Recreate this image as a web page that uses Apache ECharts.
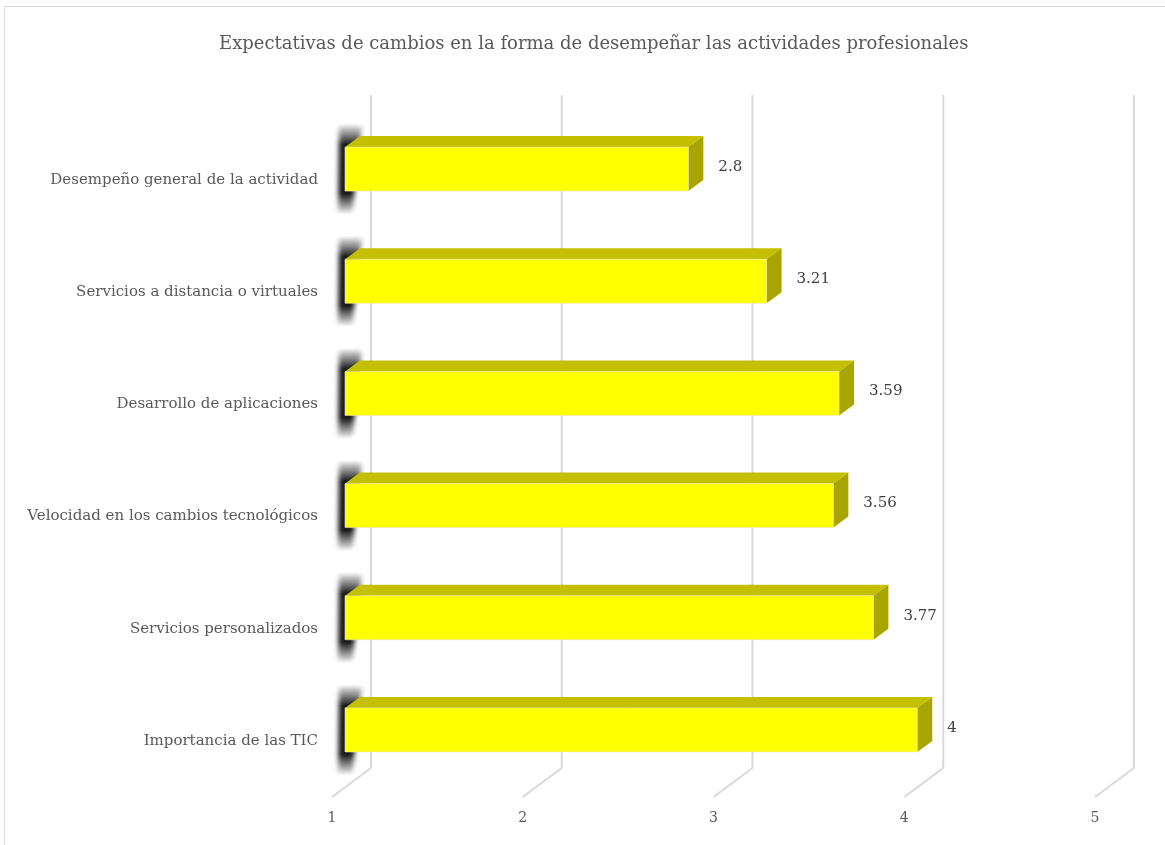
<!DOCTYPE html>
<html>
<head>
<meta charset="utf-8">
<script src="https://cdn.jsdelivr.net/npm/echarts@6/dist/echarts.min.js"></script>
<style>
  html, body { margin: 0; padding: 0; background: #ffffff; }
  #chart { width: 1165px; height: 845px; }
</style>
</head>
<body>
<div id="chart"></div>
<script>
// Chart data
const titleText = 'Expectativas de cambios en la forma de desempeñar las actividades profesionales';
const categories = [
  'Desempeño general de la actividad',
  'Servicios a distancia o virtuales',
  'Desarrollo de aplicaciones',
  'Velocidad en los cambios tecnológicos',
  'Servicios personalizados',
  'Importancia de las TIC'
];
const values = [2.8, 3.21, 3.59, 3.56, 3.77, 4];
const valueLabels = ['2.8', '3.21', '3.59', '3.56', '3.77', '4'];
const xTicks = [1, 2, 3, 4, 5];

// Oblique projection offsets (px) for the pseudo-3D look
const WALL = [39, -29];       // back wall relative to the front plane
const BAR_FRONT = [13, -11];  // bar front face relative to the front plane
const BAR_DEPTH = [15, -11];  // bar depth
const BAR_H = 44;             // bar thickness
const SHIFT = 3000;           // shadow caster is drawn off-canvas, only its blurred shadow lands
const FONT = "Georgia, 'DejaVu Serif', serif";

const chart = echarts.init(document.getElementById('chart'), null, { renderer: 'canvas' });

function renderGrid(params, api) {
  const cs = params.coordSys;
  const x = api.coord([api.value(0), 0])[0];
  const bottom = cs.y + cs.height;
  const style = { stroke: '#d9d9d9', lineWidth: 2, fill: null };
  return {
    type: 'group',
    children: [
      { type: 'line', shape: { x1: x + WALL[0], y1: cs.y + WALL[1], x2: x + WALL[0], y2: bottom + WALL[1] }, style },
      { type: 'line', shape: { x1: x, y1: bottom, x2: x + WALL[0], y2: bottom + WALL[1] }, style }
    ]
  };
}

// Soft drop shadow at the left end of a bar, faded at top and bottom
function softShadow(x0, yT, yB) {
  const pad = 24;
  const h = (yB - yT) + 2 * pad;
  const a = pad / h * 0.9;
  const pts = [[x0 - 6, yT - pad], [x0 + 17, yT - pad], [x0 + 7, yB + pad], [x0 - 7, yB + pad]];
  return {
    type: 'polygon',
    shape: { points: pts.map(p => [p[0] + SHIFT, p[1]]) },
    style: {
      fill: new echarts.graphic.LinearGradient(0, 0, 0, 1, [
        { offset: 0, color: 'rgba(0,0,0,0)' },
        { offset: a, color: 'rgba(0,0,0,0.9)' },
        { offset: 1 - a, color: 'rgba(0,0,0,0.9)' },
        { offset: 1, color: 'rgba(0,0,0,0)' }
      ]),
      shadowBlur: 5, shadowColor: 'rgba(0,0,0,1)', shadowOffsetX: -SHIFT, shadowOffsetY: 0
    }
  };
}

function renderBar(params, api) {
  const v = api.value(0);
  const idx = api.value(1);
  const start = api.coord([1, idx]);
  const end = api.coord([v, idx]);
  const x0 = start[0] + BAR_FRONT[0];
  const x1 = end[0] + BAR_FRONT[0];
  const cy = start[1] + BAR_FRONT[1];
  const yT = cy - BAR_H / 2;
  const yB = cy + BAR_H / 2;
  const dx = BAR_DEPTH[0], dy = BAR_DEPTH[1];
  return {
    type: 'group',
    children: [
      softShadow(x0, yT, yB),
      {
        type: 'polygon',
        shape: { points: [[x0, yT], [x1, yT], [x1 + dx, yT + dy], [x0 + dx, yT + dy]] },
        style: { fill: '#c4c000' }
      },
      {
        type: 'polygon',
        shape: { points: [[x1, yT], [x1 + dx, yT + dy], [x1 + dx, yB + dy], [x1, yB]] },
        style: { fill: '#a8a500' }
      },
      {
        type: 'rect',
        shape: { x: x0, y: yT, width: x1 - x0, height: BAR_H },
        style: { fill: '#ffff00', stroke: '#e6e6c8', lineWidth: 0.6 }
      },
      {
        type: 'text',
        style: {
          x: x1 + 30, y: cy - 2, text: valueLabels[idx],
          fill: '#404040', font: '15px ' + FONT,
          textAlign: 'left', textVerticalAlign: 'middle'
        }
      }
    ]
  };
}

const option = {
  animation: false,
  backgroundColor: '#ffffff',
  title: {
    text: titleText,
    left: 214,
    top: 30,
    textStyle: { fontFamily: FONT, fontSize: 18, fontWeight: 'normal', color: '#595959' }
  },
  graphic: [{
    type: 'rect',
    shape: { x: 4.5, y: 6.5, width: 1300, height: 1000 },
    style: { fill: null, stroke: '#d9d9d9', lineWidth: 1 },
    silent: true
  }],
  grid: { left: 332, top: 124, width: 763, height: 673 },
  xAxis: {
    type: 'value', min: 1, max: 5, interval: 1,
    axisLine: { show: false }, axisTick: { show: false }, splitLine: { show: false },
    axisLabel: { margin: 14, fontFamily: FONT, fontSize: 14, color: '#595959' }
  },
  yAxis: {
    type: 'category', inverse: true, data: categories,
    axisLine: { show: false }, axisTick: { show: false }, splitLine: { show: false },
    axisLabel: { margin: 14, fontFamily: FONT, fontSize: 15, color: '#595959' }
  },
  series: [
    {
      type: 'custom', name: 'grid3d', renderItem: renderGrid, silent: true, z: 1,
      encode: { x: 0, y: 1 },
      data: xTicks.map(t => [t, 0])
    },
    {
      type: 'custom', name: 'bars', renderItem: renderBar, z: 2, clip: false,
      encode: { x: 0, y: 1 },
      data: values.map((v, i) => [v, i])
    }
  ]
};

chart.setOption(option);
</script>
</body>
</html>
